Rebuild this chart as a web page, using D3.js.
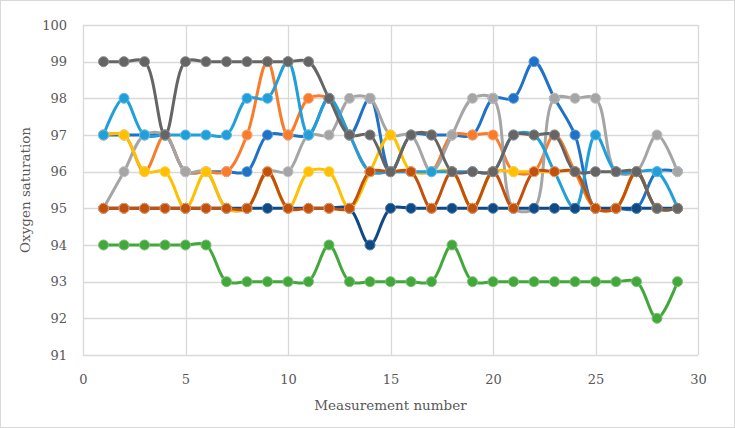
<!DOCTYPE html>
<html>
<head>
<meta charset="utf-8">
<script src="https://cdn.jsdelivr.net/npm/d3@7"></script>
<style>
    body { margin: 0; background: #fff; }
    #chart text { font-family: "DejaVu Serif", serif; fill: #595959; }
</style>
</head>
<body>
<div id="chart"></div>
<script>
// Measurement index (x axis)
const measurements = [1, 2, 3, 4, 5, 6, 7, 8, 9, 10, 11, 12, 13, 14, 15, 16, 17, 18, 19, 20, 21, 22, 23, 24, 25, 26, 27, 28, 29];

// Oxygen saturation per subject
const blueValues      = [97, 97, 97, 97, 96, 96, 96, 96, 97, 97, 97, 98, 97, 98, 96, 97, 97, 97, 97, 98, 98, 99, 98, 97, 95, 95, 95, 96, 96];
const orangeValues    = [97, 97, 96, 97, 96, 96, 96, 97, 99, 97, 98, 98, 97, 96, 96, 96, 96, 97, 97, 97, 96, 96, 97, 96, 95, 95, 96, 95, 95];
const lightGrayValues = [95, 96, 97, 97, 96, 96, 95, 95, 96, 96, 97, 97, 98, 98, 97, 97, 96, 97, 98, 98, 95, 95, 98, 98, 98, 96, 96, 97, 96];
const yellowValues    = [97, 97, 96, 96, 95, 96, 95, 95, 96, 95, 96, 96, 95, 96, 97, 96, 96, 96, 95, 96, 96, 96, 96, 96, 95, 95, 96, 95, 95];
const lightBlueValues = [97, 98, 97, 97, 97, 97, 97, 98, 98, 99, 97, 98, 97, 96, 96, 96, 96, 96, 96, 96, 97, 97, 96, 95, 97, 96, 96, 96, 95];
const greenValues     = [94, 94, 94, 94, 94, 94, 93, 93, 93, 93, 93, 94, 93, 93, 93, 93, 93, 94, 93, 93, 93, 93, 93, 93, 93, 93, 93, 92, 93];
const navyValues      = [95, 95, 95, 95, 95, 95, 95, 95, 95, 95, 95, 95, 95, 94, 95, 95, 95, 95, 95, 95, 95, 95, 95, 95, 95, 95, 95, 95, 95];
const brownValues     = [95, 95, 95, 95, 95, 95, 95, 95, 96, 95, 95, 95, 95, 96, 96, 96, 95, 96, 95, 96, 95, 96, 96, 96, 95, 95, 96, 95, 95];
const darkGrayValues  = [99, 99, 99, 97, 99, 99, 99, 99, 99, 99, 99, 98, 97, 97, 96, 97, 97, 96, 96, 96, 97, 97, 97, 96, 96, 96, 96, 95, 95];

// Axis ticks
const xTicks = [0, 5, 10, 15, 20, 25, 30];
const yTicks = [91, 92, 93, 94, 95, 96, 97, 98, 99, 100];

const xLabel = 'Measurement number';
const yLabel = 'Oxygen saturation';

// Drawing order follows the spreadsheet series order
const seriesValues = [blueValues, orangeValues, lightGrayValues, yellowValues, lightBlueValues,
                      greenValues, navyValues, brownValues, darkGrayValues];
const seriesColors = ['#1f72c6', '#f97c2c', '#a5a5a5', '#ffc000', '#219fda',
                      '#43a83c', '#0f4a85', '#c2510c', '#656565'];
const markerStroke = ['#5d9ad8', '#fba36a', '#c0c0c0', '#ffd24d', '#63bbe5',
                      '#78c270', '#4d7aaa', '#f0a070', '#8a8a8a'];

const config = {
    width: 735,
    height: 428,
    margin: { top: 25, right: 37, bottom: 73, left: 83 },
    gridColor: '#d9d9d9'
};

const width = config.width - config.margin.left - config.margin.right;
const height = config.height - config.margin.top - config.margin.bottom;

const svg = d3.select('#chart')
    .append('svg')
    .attr('width', config.width)
    .attr('height', config.height);

// Chart area border
svg.append('rect')
    .attr('x', 0.5).attr('y', 0.5)
    .attr('width', config.width - 1).attr('height', config.height - 1)
    .attr('fill', '#fff')
    .attr('stroke', config.gridColor);

const g = svg.append('g')
    .attr('transform', `translate(${config.margin.left},${config.margin.top})`);

const x = d3.scaleLinear().domain([0, 30]).range([0, width]);
const y = d3.scaleLinear().domain([91, 100]).range([height, 0]);

// Gridlines
g.append('g')
    .selectAll('line')
    .data(yTicks)
    .enter()
    .append('line')
    .attr('x1', 0).attr('x2', width)
    .attr('y1', d => Math.round(y(d)) + 0.5)
    .attr('y2', d => Math.round(y(d)) + 0.5)
    .attr('stroke', config.gridColor)
    .attr('stroke-width', 1.3);

g.append('g')
    .selectAll('line')
    .data(xTicks)
    .enter()
    .append('line')
    .attr('y1', 0).attr('y2', height)
    .attr('x1', d => Math.round(x(d)) + 0.5)
    .attr('x2', d => Math.round(x(d)) + 0.5)
    .attr('stroke', config.gridColor)
    .attr('stroke-width', 1.3);

// Axes (labels only, lines come from the grid)
const xAxis = g.append('g')
    .attr('transform', `translate(0,${height})`)
    .call(d3.axisBottom(x).tickValues(xTicks).tickSize(0).tickPadding(20));

const yAxis = g.append('g')
    .call(d3.axisLeft(y).tickValues(yTicks).tickSize(0).tickPadding(16));

[xAxis, yAxis].forEach(axis => {
    axis.select('.domain').remove();
    axis.selectAll('text')
        .style('font-family', '"DejaVu Serif", serif')
        .style('font-size', '13px')
        .attr('fill', '#595959');
});

// Axis titles
svg.append('text')
    .attr('x', config.margin.left + width / 2)
    .attr('y', 410)
    .attr('text-anchor', 'middle')
    .style('font-size', '13.5px')
    .text(xLabel);

svg.append('text')
    .attr('transform', `translate(30,${config.margin.top + height / 2}) rotate(-90)`)
    .attr('text-anchor', 'middle')
    .style('font-size', '13.5px')
    .text(yLabel);

// Lines and markers
const line = d3.line()
    .x((d, i) => x(measurements[i]))
    .y(d => y(d))
    .curve(d3.curveCatmullRom.alpha(0.5));

seriesValues.forEach((values, s) => {
    const series = g.append('g').attr('class', 'series');

    series.append('path')
        .datum(values)
        .attr('fill', 'none')
        .attr('stroke', seriesColors[s])
        .attr('stroke-width', 3)
        .attr('stroke-linejoin', 'round')
        .attr('d', line);

    series.selectAll('circle')
        .data(values)
        .enter()
        .append('circle')
        .attr('cx', (d, i) => x(measurements[i]))
        .attr('cy', d => y(d))
        .attr('r', 5)
        .attr('fill', seriesColors[s])
        .attr('stroke', markerStroke[s])
        .attr('stroke-width', 1);
});
</script>
</body>
</html>
